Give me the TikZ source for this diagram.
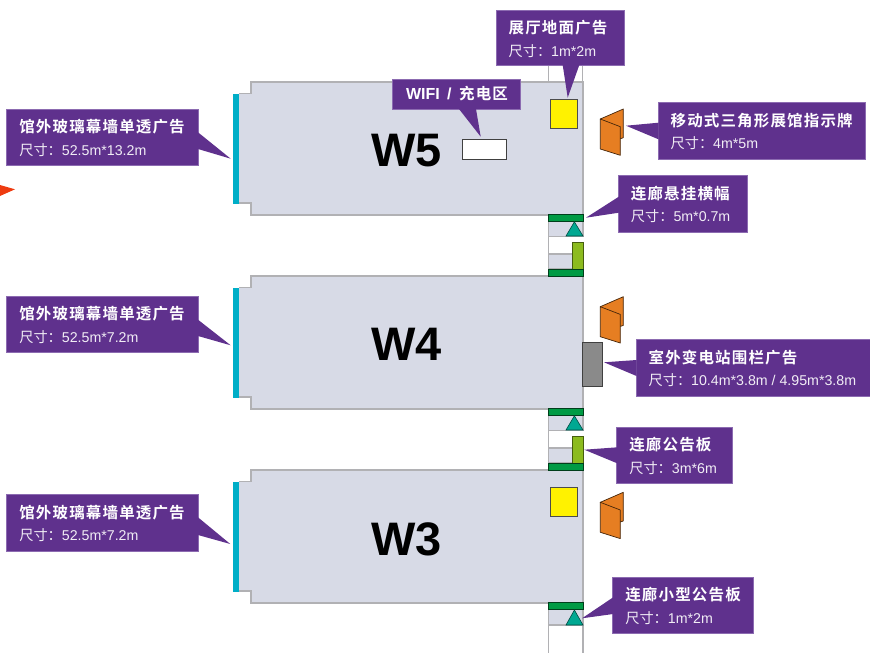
\documentclass[tikz,border=0pt]{standalone}
\usepackage{fontspec}
\setmainfont{Liberation Sans}
\newfontfamily\cjkreg{Noto Sans CJK SC}
\newfontfamily\cjkbold[LetterSpace=7.5]{Noto Sans CJK SC Bold}
\definecolor{cpurple}{HTML}{5F318D}
\definecolor{cedge}{HTML}{8C6BB1}
\definecolor{ccyan}{HTML}{00AEC7}
\definecolor{cbuild}{HTML}{D7DAE6}
\definecolor{cline}{HTML}{B1B1B4}
\definecolor{cyell}{HTML}{FFF200}
\definecolor{cgreen}{HTML}{009A44}
\definecolor{clime}{HTML}{8CBB1F}
\definecolor{cteal}{HTML}{00A892}
\definecolor{corange}{HTML}{E67E22}
\definecolor{cgrey}{HTML}{8A8A8A}
\definecolor{cred}{HTML}{EE3B10}
\definecolor{cwhite}{HTML}{F1EDF5}
\tikzset{
  build/.style={fill=cbuild,draw=cline,line width=1.1pt},
  glass/.style={fill=ccyan},
  corr/.style={draw=cline,line width=1.1pt},
  band/.style={fill=cbuild,draw=cline,line width=1.1pt},
  gbar/.style={fill=cgreen,draw=black!60!cgreen,line width=.6pt},
  lbar/.style={fill=clime,draw=black!50!clime,line width=.6pt},
  tri/.style={fill=cteal,draw=black!55!cteal,line width=.6pt},
  sign/.style={fill=corange,draw=black!70!corange,line width=.7pt,line join=round},
  ysq/.style={fill=cyell,draw=black!70,line width=.7pt},
  cobox/.style={fill=cpurple,draw=cedge,line width=.5pt,inner sep=0pt,outer sep=0pt,anchor=north west},
  coptr/.style={fill=cpurple},
  cotitle/.style={anchor=base west,inner sep=0pt,text=white,font=\cjkbold\fontsize{15.5}{17}\selectfont},
  cosub/.style={anchor=base west,inner sep=0pt,text=cwhite,font=\fontsize{14.2}{16}\selectfont},
  bname/.style={inner sep=0pt,font=\bfseries\fontsize{47}{50}\selectfont,text=black}
}
% name, x, y, width, height, pointer coordinates, title, size text
\newcommand\mycallout[8]{%
  \node[cobox,minimum width=#4pt,minimum height=#5pt] (#1) at (#2,#3) {};
  \fill[coptr] #6 -- cycle;
  \node[cotitle] (#1-t) at ([shift={(12.4,23.3)}]#1.north west) {#7};
  \node[cosub] (#1-s) at ([shift={(12.4,46)}]#1.north west) {{\cjkreg 尺寸：}#8};
}
\newcommand\mybuilding[2]{% name, top y
  \fill[glass] (233,#2+11.5) rectangle (239,#2+122);
  \draw[build] (239,#2+11.5) -- (251,#2+11.5) -- (251,#2) -- (583,#2) -- (583,#2+133) -- (251,#2+133) -- (251,#2+121) -- (239,#2+121);
}
\newcommand\mysign[1]{% y offset
  \draw[sign] (600.3,#1+119) -- (623.3,#1+109) -- (623.3,#1+137.7) -- (620.3,#1+138.7) -- cycle;
  \draw[sign] (600.3,#1+119) -- (620.3,#1+126.7) -- (620.3,#1+155.3) -- (600.3,#1+149) -- cycle;
}
\newcommand\mylink[1]{% y offset: covered walkway between two halls
  \draw[corr] (548.3,#1+215) -- (548.3,#1+276);
  \draw[band] (548.3,#1+221) rectangle (583,#1+236.5);
  \draw[band] (548.3,#1+254) rectangle (583,#1+269);
  \draw[gbar] (548.3,#1+214.5) rectangle (583,#1+221.7);
  \draw[tri] (574.4,#1+221.8) -- (583,#1+236) -- (566,#1+236) -- cycle;
  \draw[lbar] (572.5,#1+242.5) rectangle (583,#1+269);
  \draw[gbar] (548.3,#1+269) rectangle (583,#1+276.3);
}
\begin{document}
\begin{tikzpicture}[x=1pt,y=-1pt]
\useasboundingbox (0,0) rectangle (870,653);
% red arrow fragment
\fill[cred] (0,185) -- (15,189.3) -- (0,196) -- cycle;
% corridor stubs
\draw[corr] (548.3,60) -- (548.3,82);
\draw[corr] (582.5,60) -- (582.5,82);
% halls
\mybuilding{w5}{82}
\mybuilding{w4}{276}
\mybuilding{w3}{470}
\node[bname] (W5) at (406.8,150.5) {W5};
\node[bname] (W4) at (406.8,344.5) {W4};
\node[bname] (W3) at (406.8,539) {W3};
% walkways
\mylink{0}
\mylink{194}
\draw[corr] (548.3,603) -- (548.3,653);
\draw[corr] (583,603) -- (583,653);
\draw[band] (548.3,609) rectangle (583,625);
\draw[gbar] (548.3,601.8) rectangle (583,609);
\draw[tri] (574.4,610) -- (583,625) -- (566,625) -- cycle;
% floor ads
\draw[ysq] (550.7,99.3) rectangle (577.7,128.3);
\draw[ysq] (550.7,487.7) rectangle (577.7,516);
% signs
\mysign{0}
\mysign{187.7}
\mysign{383.3}
% substation fence
\node[draw=black!75,fill=cgrey,line width=.7pt,minimum width=20.4pt,minimum height=43.7pt,inner sep=0pt,outer sep=0pt,anchor=north west] (fence) at (582.3,342.3) {};
% wifi zone
\node[draw=black!75,fill=white,line width=.7pt,minimum width=44pt,minimum height=20.3pt,inner sep=0pt,outer sep=0pt,anchor=north west] (wifi) at (462.7,139) {};
\node[cobox,minimum width=127.7pt,minimum height=30.3pt] (cwifi) at (392.3,79) {};
\fill[coptr] (459,109) -- (480.7,136.7) -- (476,109) -- cycle;
\node[cotitle,anchor=base west] (cwifi-t) at (405.8,99.5) {{\normalfont\bfseries\fontsize{16}{17}\selectfont WIFI\hspace{3pt} /\hspace{3pt} }充电区};
% callouts
\mycallout{c1}{6.7}{109.3}{191.6}{56.4}{(198,132.3) -- (230.7,158.7) -- (198,149)}{馆外玻璃幕墙单透广告}{52.5m*13.2m}
\mycallout{c2}{6.7}{296}{191.6}{56.4}{(198,319.7) -- (230.7,345.3) -- (198,336)}{馆外玻璃幕墙单透广告}{52.5m*7.2m}
\mycallout{c3}{6.7}{494.7}{191.6}{56.4}{(198,517.3) -- (230.3,544) -- (198,535)}{馆外玻璃幕墙单透广告}{52.5m*7.2m}
\mycallout{c4}{496}{10.3}{128.3}{55}{(562.7,65) -- (567.7,97.7) -- (579.3,65)}{展厅地面广告}{1m*2m}
\mycallout{c5}{658}{102.7}{207.7}{56.6}{(658.5,122.7) -- (626,125.7) -- (658.5,139.3)}{移动式三角形展馆指示牌}{4m*5m}
\mycallout{c6}{618.3}{175.7}{128.7}{56.6}{(618.8,196.7) -- (586,217.7) -- (618.8,212.7)}{连廊悬挂横幅}{5m*0.7m}
\mycallout{c7}{636}{339.7}{234}{56.3}{(636.5,360) -- (604,362.3) -- (636.5,376)}{室外变电站围栏广告}{10.4m*3.8m / 4.95m*3.8m}
\mycallout{c8}{616.7}{427.3}{115.6}{56.4}{(617.2,447.3) -- (584.3,449.7) -- (617.2,463.3)}{连廊公告板}{3m*6m}
\mycallout{c9}{612.7}{577}{140.6}{56.3}{(613.2,597.3) -- (582,618.3) -- (613.2,614)}{连廊小型公告板}{1m*2m}
\end{tikzpicture}
\end{document}
